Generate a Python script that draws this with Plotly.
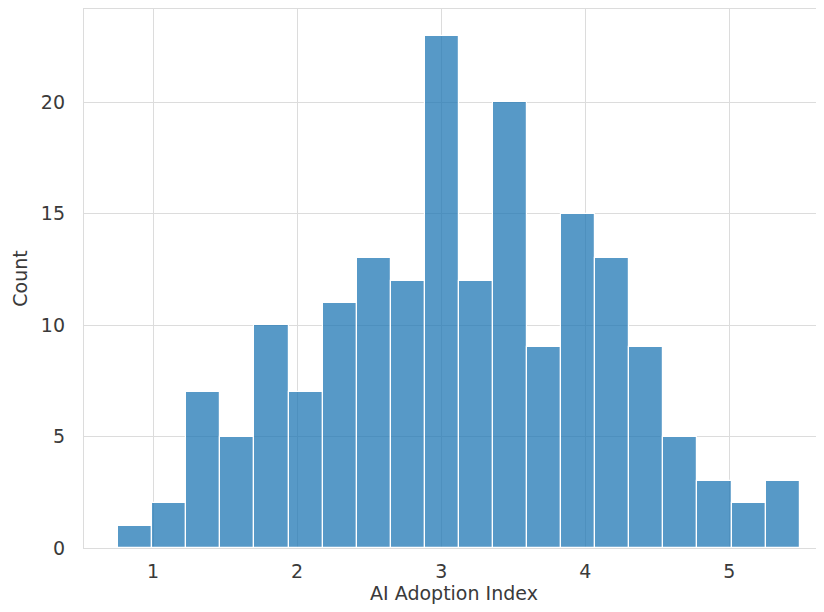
import numpy as np
import plotly.graph_objects as go

# Histogram data
bin_start = 0.757
bin_width = 0.2366
counts = [1, 2, 7, 5, 10, 7, 11, 13, 12, 23, 12, 20, 9, 15, 13, 9, 5, 3, 2, 3]
x_ticks = [1, 2, 3, 4, 5]
y_ticks = [0, 5, 10, 15, 20]

centers = bin_start + bin_width * (np.arange(len(counts)) + 0.5)

fig = go.Figure(
    go.Bar(
        x=centers,
        y=counts,
        width=bin_width,
        marker=dict(color="rgba(31,119,180,0.75)", line=dict(color="white", width=1.2)),
    )
)

font = dict(family="DejaVu Sans", size=19, color="#3a3a3a")
grid = "#dcdcdc"

fig.update_layout(
    width=816,
    height=596,
    margin=dict(l=76, r=0, t=1, b=56),
    plot_bgcolor="white",
    paper_bgcolor="white",
    bargap=0,
    showlegend=False,
    font=font,
    xaxis=dict(
        range=[0.52, 5.658],
        tickvals=x_ticks,
        showgrid=True,
        gridcolor=grid,
        gridwidth=1.3,
        showline=True,
        linecolor=grid,
        linewidth=1.3,
        mirror=True,
        zeroline=False,
        ticks="",
        ticklabelstandoff=6,
        title=dict(text="AI Adoption Index", font=font, standoff=10),
    ),
    yaxis=dict(
        range=[0, 24.19],
        tickvals=y_ticks,
        showgrid=True,
        gridcolor=grid,
        gridwidth=1.3,
        showline=True,
        linecolor=grid,
        linewidth=1.3,
        zeroline=False,
        ticks="",
        ticklabelstandoff=14,
        title=dict(text="Count", font=font, standoff=8),
    ),
)

fig.write_html("out.html")
